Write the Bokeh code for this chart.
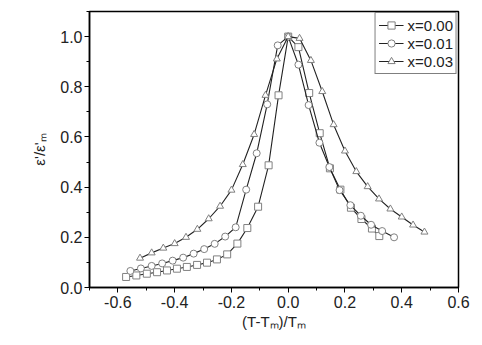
from bokeh.plotting import figure
from bokeh.models import FixedTicker, PrintfTickFormatter
from bokeh.embed import file_html
from bokeh.resources import INLINE

# x = 0.00 (squares)
sq_x = [-0.571, -0.535, -0.498, -0.462, -0.427, -0.392, -0.357, -0.321, -0.286, -0.251,
        -0.215, -0.179, -0.144, -0.106, -0.069, -0.034, 0.0,
        0.036, 0.074, 0.111, 0.147, 0.184, 0.221, 0.258, 0.295, 0.321]
sq_y = [0.042, 0.048, 0.055, 0.061, 0.068, 0.075, 0.082, 0.090, 0.099, 0.112,
        0.132, 0.175, 0.237, 0.322, 0.487, 0.766, 1.0,
        0.958, 0.775, 0.615, 0.475, 0.390, 0.318, 0.273, 0.235, 0.205]

# x = 0.01 (circles)
ci_x = [-0.556, -0.519, -0.481, -0.444, -0.407, -0.370, -0.333, -0.296, -0.259, -0.222,
        -0.185, -0.148, -0.111, -0.074, -0.037, 0.0,
        0.036, 0.072, 0.110, 0.145, 0.181, 0.219, 0.256, 0.292, 0.331, 0.373]
ci_y = [0.066, 0.076, 0.086, 0.096, 0.107, 0.119, 0.135, 0.153, 0.174, 0.203,
        0.240, 0.390, 0.535, 0.730, 0.965, 1.0,
        0.888, 0.727, 0.577, 0.480, 0.388, 0.328, 0.286, 0.250, 0.225, 0.200]

# x = 0.03 (triangles)
tr_x = [-0.522, -0.481, -0.440, -0.400, -0.360, -0.320, -0.280, -0.240, -0.200, -0.160,
        -0.120, -0.080, -0.040, 0.0, 0.040, 0.080, 0.120, 0.160, 0.200, 0.240,
        0.280, 0.320, 0.360, 0.400, 0.440, 0.480]
tr_y = [0.117, 0.138, 0.157, 0.175, 0.200, 0.232, 0.274, 0.324, 0.388, 0.490,
        0.610, 0.766, 0.911, 1.0, 0.993, 0.905, 0.781, 0.649, 0.544, 0.462,
        0.402, 0.353, 0.313, 0.281, 0.249, 0.221]

labels = ["x=0.00", "x=0.01", "x=0.03"]
x_major = [-0.6, -0.4, -0.2, 0.0, 0.2, 0.4, 0.6]
x_minor = [-0.7, -0.5, -0.3, -0.1, 0.1, 0.3, 0.5]
y_major = [0.0, 0.2, 0.4, 0.6, 0.8, 1.0]
y_minor = [0.1, 0.3, 0.5, 0.7, 0.9, 1.1]

FONT = "Liberation Sans"

p = figure(width=472, height=335, x_range=(-0.7, 0.6), y_range=(0, 1.1),
           output_backend="svg", toolbar_location=None,
           min_border_left=89, min_border_right=14, min_border_top=11,
           min_border_bottom=48)
p.xgrid.visible = False
p.ygrid.visible = False
p.outline_line_color = "black"
p.outline_line_width = 1.5
p.outline_line_alpha = 1.0

series = [(sq_x, sq_y, "square"), (ci_x, ci_y, "circle"), (tr_x, tr_y, "triangle")]
for (xs, ys, mk), lab in zip(series, labels):
    p.line(xs, ys, line_color="#222222", line_width=1.1, legend_label=lab)
    p.scatter(xs, ys, marker=mk, size=7, fill_color="white",
              line_color="#808080", line_width=1, legend_label=lab)

for ax in (p.xaxis[0], p.yaxis[0]):
    ax.major_label_text_font = FONT
    ax.major_label_text_font_size = "16px"
    ax.major_label_text_color = "#222222"
    ax.axis_label_text_font = FONT
    ax.axis_label_text_font_size = "15px"
    ax.axis_label_text_font_style = "normal"
    ax.axis_label_text_color = "#222222"
    ax.axis_line_width = 1.5
    ax.major_tick_out = 5
    ax.major_tick_in = 0
    ax.minor_tick_out = 3
    ax.minor_tick_in = 0
    ax.formatter = PrintfTickFormatter(format="%.1f")

p.xaxis[0].ticker = FixedTicker(ticks=x_major, minor_ticks=x_minor)
p.yaxis[0].ticker = FixedTicker(ticks=y_major, minor_ticks=y_minor)
p.xaxis[0].axis_label = "(T-T\u2098)/T\u2098"
p.yaxis[0].axis_label = "\u03b5'/\u03b5'\u2098"
p.xaxis[0].major_label_standoff = 3
p.xaxis[0].axis_label_standoff = 2
p.yaxis[0].major_label_standoff = 2
p.yaxis[0].axis_label_standoff = 9

lg = p.legend[0]
lg.location = "top_right"
lg.margin = 1
lg.padding = 3
lg.spacing = 0
lg.border_line_color = "black"
lg.border_line_width = 1.5
lg.background_fill_color = "white"
lg.background_fill_alpha = 1.0
lg.label_text_font = FONT
lg.label_text_font_size = "15px"
lg.label_text_color = "#222222"
lg.glyph_width = 25
lg.glyph_height = 18
lg.label_height = 18
lg.label_standoff = 4

open("out.html", "w").write(file_html(p, INLINE))
